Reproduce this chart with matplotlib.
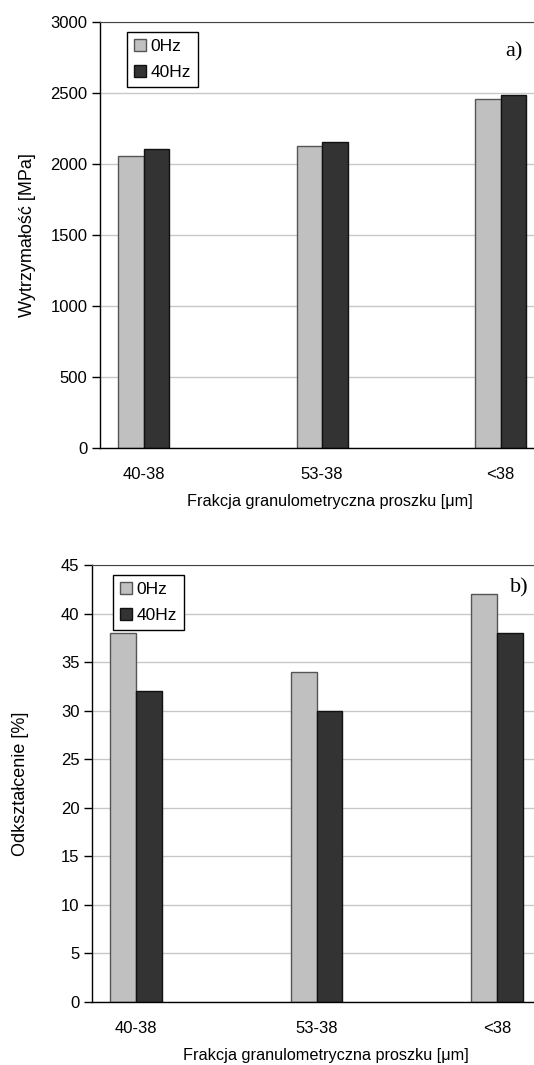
import matplotlib
matplotlib.use('Agg')
import matplotlib.pyplot as plt
import numpy as np

plt.rcParams['font.family'] = ['Liberation Sans', 'DejaVu Sans']

categories = ['40-38', '53-38', '<38']
series = ['0Hz', '40Hz']
strength_0hz = [2058, 2128, 2455]
strength_40hz = [2106, 2153, 2485]
strain_0hz = [38, 34, 42]
strain_40hz = [32, 30, 38]

color0, color40 = '#c0c0c0', '#333333'
bar_w = 0.143
W, H = 534, 1065

fig = plt.figure(figsize=(W / 100, H / 100), dpi=100)


def draw_panel(ax, v0, v40, ylim, yticks, ylabel, xlim, leg_xy):
    x = np.arange(len(categories))
    ax.set_axisbelow(True)
    ax.yaxis.grid(True, color='#c8c8c8', linewidth=1.0)
    ax.bar(x - bar_w / 2, v0, bar_w, color=color0, edgecolor='#555555',
           linewidth=1.0, label=series[0])
    ax.bar(x + bar_w / 2, v40, bar_w, color=color40, edgecolor='#111111',
           linewidth=1.0, label=series[1])
    ax.set_xlim(*xlim)
    ax.set_ylim(*ylim)
    ax.set_yticks(yticks)
    ax.set_xticks(x)
    ax.set_xticklabels(categories)
    ax.tick_params(axis='x', length=0, pad=14, labelsize=12)
    ax.tick_params(axis='y', length=6, width=1, direction='out', pad=3,
                   labelsize=12)
    for s in ['left', 'bottom']:
        ax.spines[s].set_color('black')
        ax.spines[s].set_linewidth(1.0)
    ax.spines['top'].set_color('#444444')
    ax.spines['right'].set_visible(False)
    ax.set_ylabel(ylabel, fontsize=13)
    ax.set_xlabel('Frakcja granulometryczna proszku [\u03bcm]', fontsize=11.7,
                  labelpad=8)
    leg = ax.legend(loc='upper left', fancybox=False, edgecolor='black',
                    fontsize=12.5, handlelength=0.7, handleheight=0.7,
                    handletextpad=0.25, borderpad=0.4, labelspacing=0.6,
                    borderaxespad=0, framealpha=1,
                    bbox_to_anchor=(leg_xy[0] / W, 1 - leg_xy[1] / H),
                    bbox_transform=fig.transFigure)
    leg.get_frame().set_linewidth(1.0)
    return leg


# top panel: strength
ax1 = fig.add_axes([100 / W, 1 - 448 / H, 460 / W, 426 / H])
draw_panel(ax1, strength_0hz, strength_40hz, (0, 3000),
           np.arange(0, 3001, 500), 'Wytrzyma\u0142o\u015b\u0107 [MPa]',
           (-0.244, 2.333), (127, 32))
ax1.yaxis.set_label_coords(-0.14, 0.5)

# bottom panel: strain
ax2 = fig.add_axes([92 / W, 1 - 1002 / H, 468 / W, 437 / H])
draw_panel(ax2, strain_0hz, strain_40hz, (0, 45),
           np.arange(0, 46, 5), 'Odkszta\u0142cenie [%]',
           (-0.244, 2.349), (113, 575))
ax2.yaxis.set_label_coords(-0.135, 0.5)

fig.text(514 / W, 1 - 52 / H, 'a)', family='Liberation Serif',
         fontsize=16, ha='center', va='center')
fig.text(519 / W, 1 - 588 / H, 'b)', family='Liberation Serif',
         fontsize=16, ha='center', va='center')

fig.savefig('out.png', dpi=100)
